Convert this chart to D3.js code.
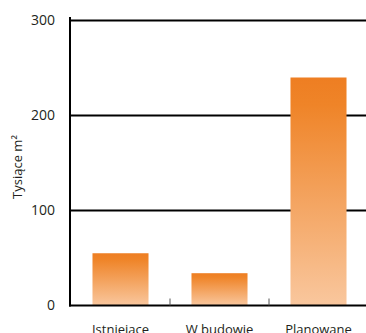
<!DOCTYPE html>
<html>
<head>
<meta charset="utf-8">
<script src="https://cdn.jsdelivr.net/npm/d3@7"></script>
<style>
  html, body { margin: 0; padding: 0; background: #fff; }
  svg { display: block; }
  text { font-family: "Open Sans", "Noto Sans", sans-serif; fill: #231F20; }
</style>
</head>
<body>
<svg id="chart" width="366" height="333"></svg>
<script>
// Powierzchnia w tysiącach m²
const categories = ["Istniejące", "W budowie", "Planowane"];
const values = [55, 34, 240];
const yTicks = [0, 100, 200, 300];
const yTitle = "Tysiące m²";

const svg = d3.select("#chart");
const W = 366, H = 333;
const axisX = 70, baseY = 305.5, topY = 20.5;

const x = d3.scaleBand()
  .domain(categories)
  .range([axisX + 1, W + 2])
  .paddingInner(0.434)
  .paddingOuter(0.217);

const y = d3.scaleLinear().domain([0, 300]).range([baseY, topY]);

// vertical gradient applied to each bar
const defs = svg.append("defs");
const grad = defs.append("linearGradient")
  .attr("id", "barFill")
  .attr("x1", 0).attr("y1", 0).attr("x2", 0).attr("y2", 1);
grad.append("stop").attr("offset", "0%").attr("stop-color", "#EE7E22");
grad.append("stop").attr("offset", "12%").attr("stop-color", "#EF8428");
grad.append("stop").attr("offset", "100%").attr("stop-color", "#F9C79E");

// horizontal grid lines (below bars)
svg.append("g")
  .selectAll("line")
  .data(yTicks.filter(d => d > 0))
  .join("line")
  .attr("x1", axisX)
  .attr("x2", W)
  .attr("y1", d => y(d))
  .attr("y2", d => y(d))
  .attr("stroke", "#000")
  .attr("stroke-width", 2);

// bars
svg.append("g")
  .selectAll("rect")
  .data(categories.map((c, i) => ({ c, v: values[i] })))
  .join("rect")
  .attr("x", d => x(d.c))
  .attr("width", x.bandwidth())
  .attr("y", d => y(d.v))
  .attr("height", d => y(0) - y(d.v))
  .attr("fill", "url(#barFill)");

// y axis: line and tick labels
svg.append("line")
  .attr("x1", axisX).attr("x2", axisX)
  .attr("y1", topY - 3.5).attr("y2", baseY + 1)
  .attr("stroke", "#000").attr("stroke-width", 2);

svg.append("g")
  .selectAll("text")
  .data(yTicks)
  .join("text")
  .attr("x", axisX - 15)
  .attr("y", d => y(d))
  .attr("dy", "0.35em")
  .attr("text-anchor", "end")
  .attr("font-size", 14)
  .text(d => d);

// x axis baseline
svg.append("line")
  .attr("x1", axisX - 1).attr("x2", W)
  .attr("y1", baseY).attr("y2", baseY)
  .attr("stroke", "#000").attr("stroke-width", 2);

// category separators
const step = x.step();
const seps = categories.slice(0, -1).map(c => x(c) + x.bandwidth() + (step - x.bandwidth()) / 2);
svg.append("g")
  .selectAll("line")
  .data(seps)
  .join("line")
  .attr("x1", d => d).attr("x2", d => d)
  .attr("y1", baseY - 7).attr("y2", baseY)
  .attr("stroke", "#555").attr("stroke-width", 1);

// category labels
svg.append("g")
  .selectAll("text")
  .data(categories)
  .join("text")
  .attr("x", d => x(d) + x.bandwidth() / 2)
  .attr("y", 334)
  .attr("text-anchor", "middle")
  .attr("font-size", 13)
  .text(d => d);

// y axis title
svg.append("text")
  .attr("transform", `translate(22,167) rotate(-90)`)
  .attr("text-anchor", "middle")
  .attr("font-size", 13)
  .text(yTitle);
</script>
</body>
</html>
